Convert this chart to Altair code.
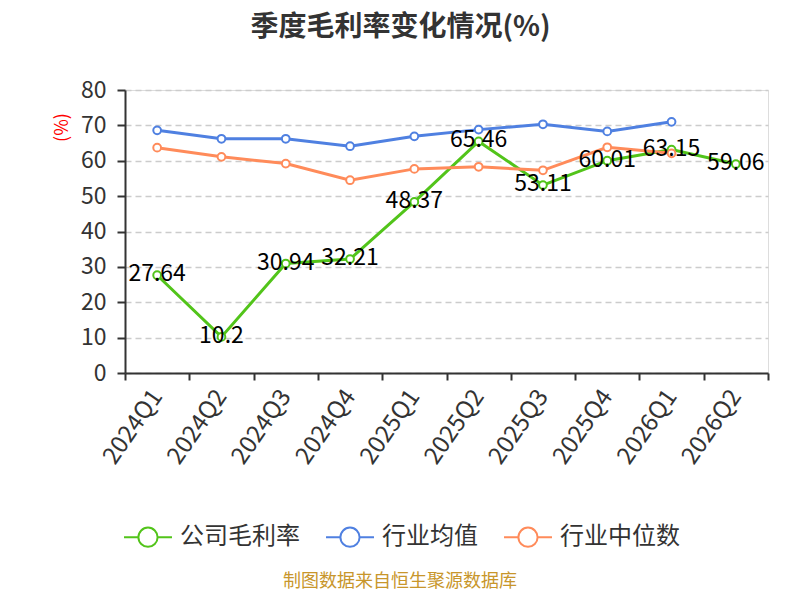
import altair as alt
import pandas as pd

quarters = ["2024Q1", "2024Q2", "2024Q3", "2024Q4", "2025Q1", "2025Q2",
            "2025Q3", "2025Q4", "2026Q1", "2026Q2"]
company = [27.64, 10.2, 30.94, 32.21, 48.37, 65.46, 53.11, 60.01, 63.15, 59.06]
ind_mean = [68.6, 66.2, 66.2, 64.1, 66.9, 68.8, 70.3, 68.3, 71.0]
ind_median = [63.7, 61.1, 59.2, 54.5, 57.7, 58.3, 57.3, 63.8, 62.1]

series_names = ["公司毛利率", "行业均值", "行业中位数"]
series_colors = ["#52c41a", "#4f80e1", "#ff8b5a"]

rows = []
for name, vals in zip(series_names, [company, ind_mean, ind_median]):
    for i, v in enumerate(vals):
        rows.append({"q": quarters[i], "v": v, "s": name, "o": series_names.index(name)})
df = pd.DataFrame(rows)

FONT = "Noto Sans CJK SC"
W, H = 643, 283

x_enc = alt.X("q:N", sort=quarters,
              scale=alt.Scale(type="band", paddingInner=0, paddingOuter=0),
              axis=alt.Axis(title=None, labelAngle=-55, labelAlign="right",
                            labelBaseline="middle", labelFontSize=24,
                            labelColor="#333333", labelPadding=12,
                            tickBand="extent", tickSize=7, tickWidth=2,
                            tickColor="#333333", domainColor="#333333",
                            domainWidth=2, grid=False, labelFont=FONT))
y_enc = alt.Y("v:Q", scale=alt.Scale(domain=[0, 80], nice=False),
              axis=alt.Axis(values=list(range(0, 81, 10)), title="(%)",
                            titleColor="red", titleFontSize=18,
                            titleFontWeight="normal", titleAngle=270,
                            titleX=-63, titleY=37, titleAlign="center",
                            titleBaseline="middle", titleFont=FONT,
                            labelFontSize=23, labelColor="#333333",
                            labelFont=FONT, labelPadding=11,
                            tickSize=8, tickWidth=2, tickColor="#333333",
                            domainColor="#333333", domainWidth=2,
                            grid=True, gridDash=[6, 4], gridColor="#cccccc",
                            gridWidth=1.5))

legend_path = ("M-1,0L-0.4,0M0.4,0L1,0M-0.4,0A0.4,0.4,0,1,1,0.4,0"
               "A0.4,0.4,0,1,1,-0.4,0")
color_enc = alt.Color("s:N", scale=alt.Scale(domain=series_names, range=series_colors),
                      legend=alt.Legend(title=None, orient="none", direction="horizontal",
                                        legendX=-2, legendY=422,
                                        symbolType=legend_path, symbolSize=2300,
                                        symbolStrokeWidth=2, labelFontSize=24,
                                        labelColor="#333333", labelFont=FONT,
                                        columnPadding=22, labelOffset=7))

base = alt.Chart(df)
lines = base.mark_line(strokeWidth=3).encode(x=x_enc, y=y_enc, color=color_enc,
                                             order=alt.Order("o:Q"))
points = base.mark_point(filled=False, fill="white", size=60, strokeWidth=2,
                         opacity=1).encode(x=x_enc, y=y_enc, color=color_enc)
labels = base.transform_filter(alt.datum.s == "公司毛利率").mark_text(
    fontSize=23, color="#000000", font=FONT, baseline="middle", align="center", dy=-1
).encode(x=x_enc, y=y_enc, text=alt.Text("v:Q"))

src_df = pd.DataFrame({"t": ["制图数据来自恒生聚源数据库"]})
source = alt.Chart(src_df).mark_text(fontSize=18, color="#c8962b", font=FONT,
                                     baseline="middle", align="center").encode(
    x=alt.value(275), y=alt.value(492), text="t:N")

chart = alt.layer(lines, points, labels, source).properties(
    width=W, height=H,
    title=alt.TitleParams("季度毛利率变化情况(%)", fontSize=28, fontWeight="bold",
                          color="#333333", font=FONT, anchor="middle", dx=-46,
                          offset=37),
    autosize=alt.AutoSizeParams(type="none"),
    padding={"left": 117, "top": 82, "right": 24, "bottom": 219},
).configure_view(stroke=None).configure(background="white")

chart.save("out.html", embed_options={"renderer": "svg", "actions": False})
